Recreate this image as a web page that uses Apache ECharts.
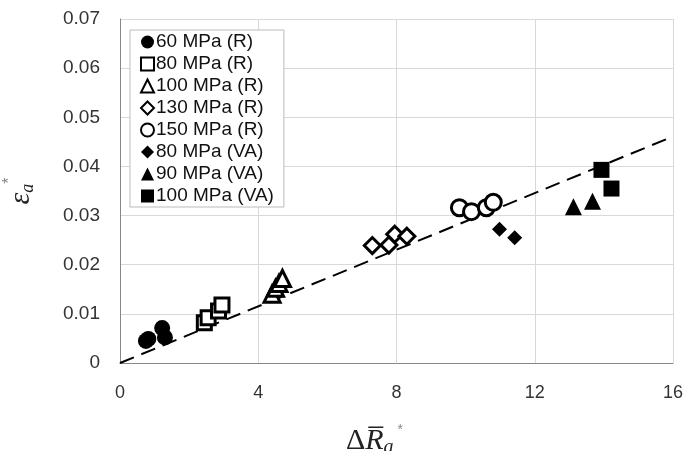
<!DOCTYPE html>
<html>
<head>
<meta charset="utf-8">
<script src="https://cdn.jsdelivr.net/npm/echarts@6/dist/echarts.min.js"></script>
<style>
  html, body { margin: 0; padding: 0; background: #fff; }
  #chart { width: 686px; height: 451px; }
</style>
</head>
<body>
<div id="chart"></div>
<script>
// data: [dR_a*, eps_a*]
var r60 = [[0.75, 0.0045], [0.82, 0.0049], [1.22, 0.0071], [1.3, 0.0052]];
var r80 = [[2.44, 0.0082], [2.55, 0.0092], [2.85, 0.0106], [2.95, 0.0118]];
var r100 = [[4.4, 0.014], [4.5, 0.0152], [4.6, 0.0162], [4.7, 0.0172]];
var r130 = [[7.3, 0.0239], [7.78, 0.024], [7.95, 0.0262], [8.3, 0.0258]];
var r150 = [[9.82, 0.0316], [10.17, 0.0308], [10.6, 0.0316], [10.8, 0.0327]];
var va80 = [[10.98, 0.0272], [11.42, 0.0255]];
var va90 = [[13.12, 0.0318], [13.67, 0.0329]];
var va100 = [[13.93, 0.0393], [14.22, 0.0355]];
var fitLine = [[0, 0], [16, 0.0461]];

var names = ['60 MPa (R)', '80 MPa (R)', '100 MPa (R)', '130 MPa (R)', '150 MPa (R)',
  '80 MPa (VA)', '90 MPa (VA)', '100 MPa (VA)'];

var chart = echarts.init(document.getElementById('chart'));

function pts(name, data, symbol, size, hollow) {
  return {
    name: name,
    type: 'scatter',
    data: data,
    symbol: symbol,
    symbolSize: size,
    z: 3,
    itemStyle: hollow
      ? { color: '#fff', borderColor: '#000', borderWidth: 3, opacity: 1 }
      : { color: '#000', borderWidth: 0, opacity: 1 }
  };
}

chart.setOption({
  animation: false,
  grid: { left: 120, right: 13, top: 19, bottom: 88, outerBoundsMode: 'none', containLabel: false },
  legend: {
    orient: 'vertical',
    left: 130,
    top: 30,
    padding: [1, 10, 0, 10],
    itemGap: 0,
    itemWidth: 13,
    itemHeight: 13,
    backgroundColor: '#fff',
    borderColor: '#bbb',
    borderWidth: 1,
    borderRadius: 0,
    textStyle: {
      fontFamily: 'Liberation Sans', fontSize: 19, lineHeight: 22, color: '#111',
      padding: [0, 0, 0, -3]
    },
    data: names
  },
  xAxis: {
    type: 'value',
    min: 0, max: 16, interval: 4,
    name: '{d|Δ}{r|R̅}{sub|a}{sup|*}',
    nameLocation: 'middle',
    nameGap: 60,
    nameTextStyle: {
      padding: [0, 44, 0, 0],
      rich: {
        d: { fontFamily: 'Liberation Serif', fontSize: 30, color: '#222' },
        r: { fontFamily: 'Liberation Serif', fontStyle: 'italic', fontSize: 30, color: '#222' },
        sub: { fontFamily: 'Liberation Serif', fontStyle: 'italic', fontSize: 20, color: '#222', padding: [14, 0, 0, 0] },
        sup: { fontFamily: 'Liberation Sans', fontSize: 14, color: '#888', padding: [0, 0, 22, 4] }
      }
    },
    axisLine: { lineStyle: { color: '#888', width: 1 } },
    axisTick: { show: false },
    axisLabel: { margin: 21, fontFamily: 'Liberation Sans', fontSize: 18, color: '#333' },
    splitLine: { show: true, lineStyle: { color: '#d9d9d9', width: 1 } }
  },
  yAxis: {
    type: 'value',
    min: 0, max: 0.07, interval: 0.01,
    name: '{e|ε}{sub|a}{sup|*}',
    nameLocation: 'middle',
    nameRotate: 90,
    nameGap: 80,
    nameTextStyle: {
      rich: {
        e: { fontFamily: 'Liberation Serif', fontStyle: 'italic', fontSize: 30, color: '#222' },
        sub: { fontFamily: 'Liberation Serif', fontStyle: 'italic', fontSize: 18, color: '#222', padding: [14, 0, 0, 0] },
        sup: { fontFamily: 'Liberation Sans', fontSize: 16, color: '#888', padding: [0, 0, 22, 0] }
      }
    },
    axisLine: { show: true, lineStyle: { color: '#888', width: 1 } },
    axisTick: { show: false },
    axisLabel: {
      margin: 20, fontFamily: 'Liberation Sans', fontSize: 19, color: '#333',
      formatter: function (v) { return v === 0 ? '0' : v.toFixed(2); }
    },
    splitLine: { show: true, lineStyle: { color: '#d9d9d9', width: 1 } }
  },
  series: [
    {
      name: 'fit',
      type: 'line',
      data: fitLine,
      symbol: 'none',
      z: 2,
      lineStyle: { color: '#000', width: 2, type: [15, 8] }
    },
    pts(names[0], r60, 'circle', 16, false),
    pts(names[1], r80, 'rect', 14, true),
    pts(names[2], r100, 'triangle', 16, true),
    pts(names[3], r130, 'diamond', 16, true),
    pts(names[4], r150, 'circle', 16, true),
    pts(names[5], va80, 'diamond', 15, false),
    pts(names[6], va90, 'triangle', 17, false),
    pts(names[7], va100, 'rect', 16, false)
  ]
});
</script>
</body>
</html>
